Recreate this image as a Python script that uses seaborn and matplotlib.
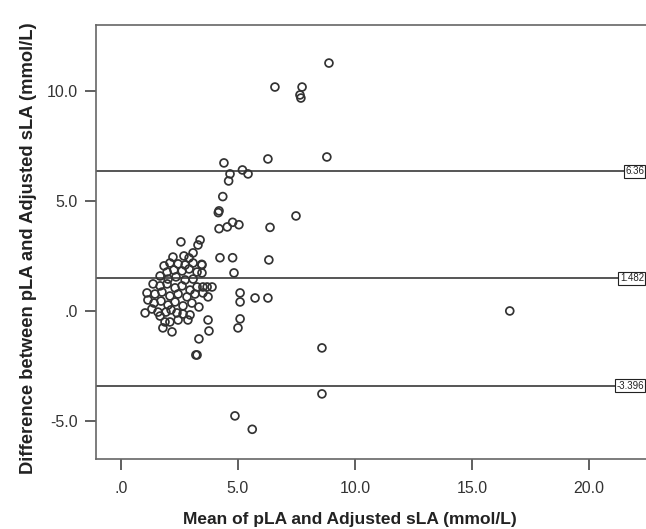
import matplotlib
matplotlib.use("Agg")
import matplotlib.pyplot as plt
import seaborn as sns
import pandas as pd

# Bland-Altman data: mean of pLA and adjusted sLA vs difference
mean_vals = [
    # sparse upper / outer points
    8.89, 6.58, 7.74, 7.65, 7.69, 4.40, 6.28, 8.80, 4.66, 5.19, 5.43, 4.60,
    4.35, 4.16, 4.19, 7.48, 4.19, 4.54, 4.77, 5.04, 6.37, 8.59, 8.59, 4.87,
    5.61, 16.62,
    # mid points
    4.23, 4.77, 6.32, 4.83, 3.45, 5.09, 5.09, 5.73, 6.28, 5.09, 5.00,
    # dense cluster
    2.56, 3.38, 3.29, 2.22, 2.69, 3.08, 2.91, 1.84, 2.09, 2.44, 2.74, 3.08,
    3.46, 1.97, 2.26, 2.61, 2.91, 3.25, 3.46, 1.67, 2.01, 2.35, 2.74, 3.08,
    1.37, 1.67, 1.97, 2.31, 2.61, 2.95, 3.25, 3.50, 3.68, 3.89, 1.11, 1.45,
    1.75, 2.09, 2.44, 2.82, 3.16, 3.50, 3.72, 1.15, 1.41, 1.71, 2.01, 2.31,
    2.65, 3.03, 3.33, 1.03, 1.32, 1.58, 1.67, 1.92, 2.14, 2.39, 2.65, 2.95,
    2.86, 1.88, 2.09, 2.44, 1.79, 2.18, 3.72, 3.76, 3.33, 3.25, 3.20,
]
diff_vals = [
    11.27, 10.18, 10.18, 9.82, 9.68, 6.73, 6.91, 7.00, 6.23, 6.41, 6.23, 5.91,
    5.20, 4.47, 4.55, 4.32, 3.74, 3.82, 4.03, 3.92, 3.80, -1.68, -3.77, -4.77,
    -5.38, 0.00,
    2.42, 2.42, 2.32, 1.73, 2.12, 0.82, 0.41, 0.59, 0.59, -0.36, -0.77,
    3.14, 3.23, 3.00, 2.45, 2.50, 2.64, 2.41, 2.05, 2.18, 2.14, 2.09, 2.18,
    2.09, 1.77, 1.86, 1.82, 1.91, 1.77, 1.73, 1.59, 1.45, 1.55, 1.41, 1.45,
    1.23, 1.14, 1.23, 1.05, 1.14, 0.95, 1.09, 1.09, 1.09, 1.09, 0.82, 0.77,
    0.86, 0.68, 0.77, 0.64, 0.77, 0.82, 0.64, 0.50, 0.36, 0.45, 0.27, 0.41,
    0.23, 0.36, 0.18, -0.09, 0.09, -0.05, -0.23, -0.05, 0.05, -0.09, -0.14, -0.18,
    -0.41, -0.50, -0.50, -0.41, -0.77, -0.95, -0.41, -0.91, -1.27, -2.00, -2.00,
]

mean_diff = 1.482
upper_loa = 6.36
lower_loa = -3.396
ref_lines = [upper_loa, mean_diff, lower_loa]
ref_labels = ["6.36", "1.482", "-3.396"]

x_ticks = [0, 5, 10, 15, 20]
x_ticklabels = [".0", "5.0", "10.0", "15.0", "20.0"]
y_ticks = [-5, 0, 5, 10]
y_ticklabels = ["-5.0", ".0", "5.0", "10.0"]

df = pd.DataFrame({"mean": mean_vals, "diff": diff_vals})

sns.set_theme(style="white")
plt.rcParams["font.family"] = ["Liberation Sans", "DejaVu Sans"]

fig = plt.figure(figsize=(6.46, 5.29), dpi=100)
ax = fig.add_axes([96 / 646, 70 / 529, 563 / 646, 434 / 529])

for yv in ref_lines:
    ax.axhline(yv, color="#555555", lw=1.4, zorder=1)

sns.scatterplot(data=df, x="mean", y="diff", ax=ax, marker="o", s=32,
                facecolor="none", edgecolor="#333333", linewidth=1.25, zorder=3)

ax.set_xlim(-1.07, 23.0)
ax.set_ylim(-6.73, 13.0)
ax.set_xticks(x_ticks)
ax.set_xticklabels(x_ticklabels)
ax.set_yticks(y_ticks)
ax.set_yticklabels(y_ticklabels)

for sp in ax.spines.values():
    sp.set_color("#666666")
    sp.set_linewidth(1.2)
ax.spines["right"].set_visible(False)

ax.tick_params(axis="both", direction="out", length=8, width=1.2, color="#444444",
               labelsize=11.5, labelcolor="#333333", bottom=True, left=True)
ax.tick_params(axis="x", pad=8)
ax.tick_params(axis="y", pad=5)

ax.set_xlabel("Mean of pLA and Adjusted sLA (mmol/L)", fontsize=12.5,
              fontweight="bold", color="#222222")
ax.set_ylabel("Difference between pLA and Adjusted sLA (mmol/L)", fontsize=13.2,
              fontweight="bold", color="#222222")
ax.xaxis.set_label_coords((350 - 96) / 563, -(512 - 459) / 434)
ax.yaxis.set_label_coords(-(96 - 37) / 563, (459 - 248) / 434)

trans = matplotlib.transforms.blended_transform_factory(fig.transFigure, ax.transData)
for yv, lab in zip(ref_lines, ref_labels):
    ax.text(644 / 646, yv, lab, transform=trans, fontsize=7,
            ha="right", va="center", color="#222222", clip_on=False,
            bbox=dict(boxstyle="square,pad=0.15", facecolor="white",
                      edgecolor="#222222", linewidth=0.8))

fig.savefig("out.png", dpi=100)
